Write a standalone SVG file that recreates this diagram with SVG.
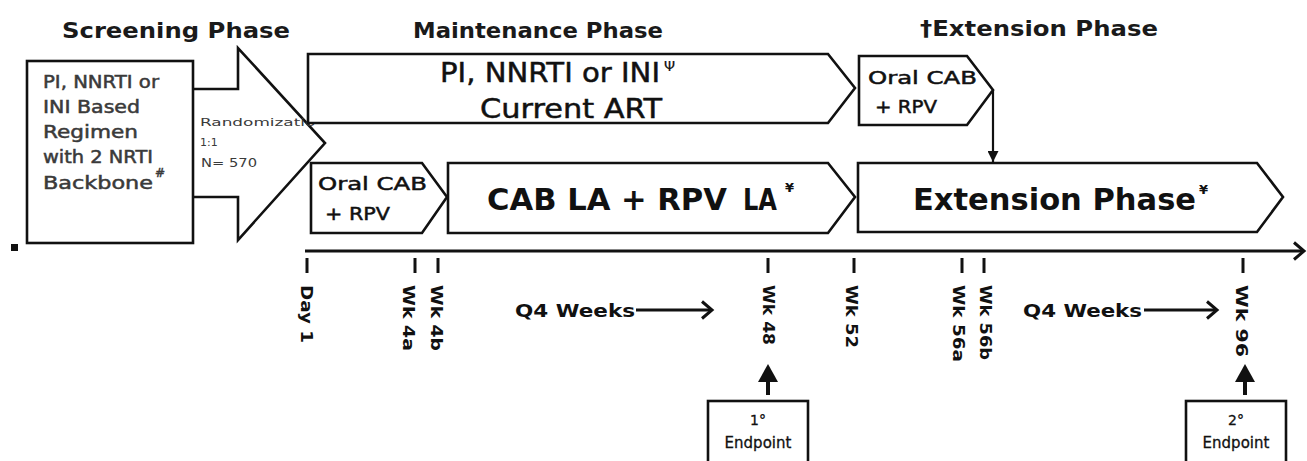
<svg xmlns="http://www.w3.org/2000/svg" width="1307" height="461" viewBox="0 0 1307 461">
  <defs>
    <style>
      .box{fill:#fff;stroke:#111;stroke-width:2.6;stroke-linejoin:miter}
      .t{font-family:"DejaVu Sans","Liberation Sans",sans-serif;fill:#111}
      .b{font-weight:bold}
      .h{font-size:22px;font-weight:bold;fill:#1a1a1a}
      .g{fill:#3a3a3a}
      .thk{stroke:#111;stroke-width:0.5}
      .ln{stroke:#111;fill:none}
      .tick{stroke:#111;stroke-width:3}
    </style>
    <marker id="tri" viewBox="0 0 10 10" refX="10" refY="5" markerWidth="11" markerHeight="11" markerUnits="userSpaceOnUse" orient="auto">
      <path d="M0,0 L10,5 L0,10 z" fill="#111"/>
    </marker>
    <marker id="chev" viewBox="0 0 14 20" refX="12" refY="10" markerWidth="14" markerHeight="20" markerUnits="userSpaceOnUse" orient="auto" overflow="visible">
      <path d="M2,1.5 L12,10 L2,18.5" fill="none" stroke="#111" stroke-width="3"/>
    </marker>
    <clipPath id="randClip">
      <rect x="195" y="100" width="121" height="40"/>
    </clipPath>
  </defs>

  <!-- phase headings -->
  <g id="headings">
    <text class="t h" x="62" y="38" textLength="228" lengthAdjust="spacingAndGlyphs">Screening Phase</text>
    <text class="t h" x="413" y="38" textLength="250" lengthAdjust="spacingAndGlyphs">Maintenance Phase</text>
    <text class="t h" x="920" y="36" textLength="238" lengthAdjust="spacingAndGlyphs">†Extension Phase</text>
  </g>

  <!-- randomization arrow -->
  <g id="randomization">
    <polygon class="box" points="180,89 238,89 238,48 325,143 238,240 238,197 180,197"/>
    <g clip-path="url(#randClip)">
      <text class="t g" x="200" y="126" font-size="11" textLength="126" lengthAdjust="spacingAndGlyphs">Randomization</text>
    </g>
    <text class="t g" x="200" y="146" font-size="11">1:1</text>
    <text class="t g" x="201" y="167" font-size="12" textLength="56" lengthAdjust="spacingAndGlyphs">N= 570</text>
  </g>

  <!-- screening regimen -->
  <g id="screening">
    <rect class="box" x="27" y="61" width="166" height="182" stroke-width="3"/>
    <g class="t g thk" font-size="17" style="stroke:#3a3a3a">
      <text x="43" y="88" textLength="116" lengthAdjust="spacingAndGlyphs">PI, NNRTI or</text>
      <text x="43" y="113" textLength="97" lengthAdjust="spacingAndGlyphs">INI Based</text>
      <text x="43" y="138" textLength="95" lengthAdjust="spacingAndGlyphs">Regimen</text>
      <text x="43" y="163" textLength="110" lengthAdjust="spacingAndGlyphs">with 2 NRTI</text>
      <text x="43" y="189" textLength="110" lengthAdjust="spacingAndGlyphs">Backbone</text>
      <text x="155" y="177" font-size="12">#</text>
    </g>
  </g>

  <!-- maintenance: current ART -->
  <g id="current-art">
    <polygon class="box" points="308,54 828,54 855,88 828,123 308,123"/>
    <g class="t thk" font-size="27">
      <text x="440" y="82" textLength="220" lengthAdjust="spacingAndGlyphs">PI, NNRTI or INI</text>
      <text x="664" y="71" font-size="14" style="stroke-width:0.2">Ψ</text>
      <text x="480" y="118" textLength="182" lengthAdjust="spacingAndGlyphs">Current ART</text>
    </g>
  </g>

  <!-- maintenance: oral lead-in -->
  <g id="oral-lead-in">
    <polygon class="box" points="311,163 422,163 447,197 422,233 311,233"/>
    <g class="t thk" font-size="18">
      <text x="318" y="190" textLength="109" lengthAdjust="spacingAndGlyphs">Oral CAB</text>
      <text x="325" y="220" textLength="65" lengthAdjust="spacingAndGlyphs">+ RPV</text>
    </g>
  </g>

  <!-- maintenance: long-acting -->
  <g id="cab-rpv-la">
    <polygon class="box" points="448,163 828,163 855,197 828,233 448,233"/>
    <text class="t b" x="487" y="210" font-size="31" textLength="240" lengthAdjust="spacingAndGlyphs">CAB LA + RPV</text>
    <text class="t b" x="743" y="210" font-size="31" textLength="34" lengthAdjust="spacingAndGlyphs">LA</text>
    <text class="t b" x="785" y="192" font-size="13">¥</text>
  </g>

  <!-- extension: oral lead-in -->
  <g id="ext-oral">
    <polygon class="box" points="859,56 967,56 993,90 967,125 859,125"/>
    <g class="t thk" font-size="18">
      <text x="868" y="84" textLength="109" lengthAdjust="spacingAndGlyphs">Oral CAB</text>
      <text x="875" y="113" textLength="62" lengthAdjust="spacingAndGlyphs">+ RPV</text>
    </g>
  </g>

  <!-- extension: long-acting -->
  <g id="extension">
    <polygon class="box" points="858,163 1257,163 1283,197 1257,232 858,232"/>
    <text class="t b" x="913" y="210" font-size="31" textLength="283" lengthAdjust="spacingAndGlyphs">Extension Phase</text>
    <text class="t b" x="1199" y="194" font-size="13">¥</text>
  </g>

  <!-- endpoint boxes -->
  <g id="endpoint-1">
    <rect class="box" x="708" y="401" width="100" height="72" stroke-width="2.4"/>
    <text class="t thk" x="758" y="425" font-size="14" text-anchor="middle" style="stroke-width:0.3">1°</text>
    <text class="t thk" x="758" y="448" font-size="15" text-anchor="middle" style="stroke-width:0.3">Endpoint</text>
  </g>
  <g id="endpoint-2">
    <rect class="box" x="1186" y="401" width="100" height="72" stroke-width="2.4"/>
    <text class="t thk" x="1236" y="425" font-size="14" text-anchor="middle" style="stroke-width:0.3">2°</text>
    <text class="t thk" x="1236" y="448" font-size="15" text-anchor="middle" style="stroke-width:0.3">Endpoint</text>
  </g>

  <!-- timeline, ticks and other connectors -->
  <g id="connectors">
    <rect x="11" y="244" width="7" height="7" fill="#111"/>
    <line class="ln" x1="305" y1="251" x2="1304" y2="251" stroke-width="3" marker-end="url(#chev)"/>
    <line class="tick" x1="307" y1="258" x2="307" y2="273"/>
    <line class="tick" x1="415" y1="258" x2="415" y2="273"/>
    <line class="tick" x1="438" y1="258" x2="438" y2="273"/>
    <line class="tick" x1="768" y1="258" x2="768" y2="273"/>
    <line class="tick" x1="854" y1="258" x2="854" y2="273"/>
    <line class="tick" x1="962" y1="258" x2="962" y2="273"/>
    <line class="tick" x1="984" y1="258" x2="984" y2="273"/>
    <line class="tick" x1="1243" y1="258" x2="1243" y2="273"/>
    <line class="ln" x1="993" y1="90" x2="993" y2="162" stroke-width="2.2" marker-end="url(#tri)"/>
    <line class="ln" x1="636" y1="310" x2="712" y2="310" stroke-width="3" marker-end="url(#chev)"/>
    <line class="ln" x1="1144" y1="310" x2="1217" y2="310" stroke-width="3" marker-end="url(#chev)"/>
    <path class="ln" d="M768,395 V376" stroke-width="4"/>
    <polygon points="758,382 768,364 778,382" fill="#111"/>
    <path class="ln" d="M1245,395 V376" stroke-width="4"/>
    <polygon points="1235,382 1245,364 1255,382" fill="#111"/>
  </g>

  <!-- timeline labels -->
  <g id="timeline-labels" class="t b" font-size="16">
    <text transform="translate(301,285) rotate(90)" textLength="58" lengthAdjust="spacingAndGlyphs">Day 1</text>
    <text transform="translate(403,285) rotate(90)" textLength="66" lengthAdjust="spacingAndGlyphs">Wk 4a</text>
    <text transform="translate(431,285) rotate(90)" textLength="66" lengthAdjust="spacingAndGlyphs">Wk 4b</text>
    <text transform="translate(763,285) rotate(90)" textLength="60" lengthAdjust="spacingAndGlyphs">Wk 48</text>
    <text transform="translate(846,285) rotate(90)" textLength="63" lengthAdjust="spacingAndGlyphs">Wk 52</text>
    <text transform="translate(953,285) rotate(90)" textLength="77" lengthAdjust="spacingAndGlyphs">Wk 56a</text>
    <text transform="translate(980,285) rotate(90)" textLength="75" lengthAdjust="spacingAndGlyphs">Wk 56b</text>
    <text transform="translate(1236,285) rotate(90)" textLength="72" lengthAdjust="spacingAndGlyphs">Wk 96</text>
    <text x="515" y="317" font-size="18" textLength="120" lengthAdjust="spacingAndGlyphs">Q4 Weeks</text>
    <text x="1023" y="317" font-size="18" textLength="119" lengthAdjust="spacingAndGlyphs">Q4 Weeks</text>
  </g>
</svg>
